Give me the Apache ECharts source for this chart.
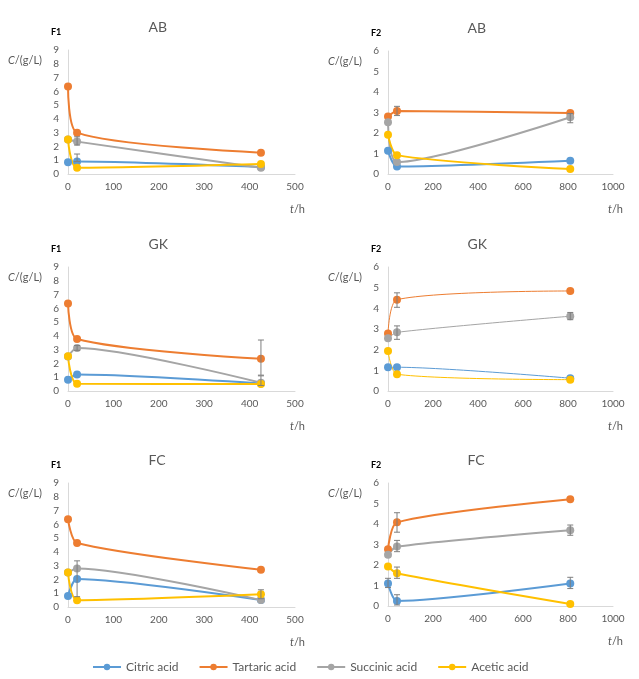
<!DOCTYPE html>
<html>
<head>
<meta charset="utf-8">
<script src="https://cdn.jsdelivr.net/npm/echarts@6/dist/echarts.min.js"></script>
<style>
  html, body { margin: 0; padding: 0; background: #fff; }
  #main { width: 639px; height: 679px; }
</style>
</head>
<body>
<div id="main"></div>
<script>
const acids = ['Citric acid', 'Tartaric acid', 'Succinic acid', 'Acetic acid']
const colors = ['#5B9BD5', '#ED7D31', '#A5A5A5', '#FFC000']

// sampling times (h)
const hoursF1 = [0, 20, 425]
const hoursF2 = [0, 40, 810]

// concentrations, g/L : citric, tartaric, succinic, acetic
const abF1 = [[0.85, 0.9, 0.5], [6.35, 3.0, 1.55], [2.5, 2.35, 0.45], [2.5, 0.45, 0.72]]
const abF2 = [[1.13, 0.37, 0.65], [2.8, 3.07, 2.97], [2.53, 0.58, 2.77], [1.91, 0.92, 0.24]]
const gkF1 = [[0.82, 1.2, 0.55], [6.35, 3.77, 2.34], [2.5, 3.12, 0.6], [2.52, 0.52, 0.5]]
const gkF2 = [[1.15, 1.15, 0.62], [2.78, 4.42, 4.84], [2.55, 2.84, 3.62], [1.93, 0.81, 0.55]]
const fcF1 = [[0.8, 2.03, 0.5], [6.37, 4.65, 2.7], [2.5, 2.8, 0.5], [2.5, 0.49, 0.92]]
const fcF2 = [[1.1, 0.25, 1.1], [2.77, 4.08, 5.21], [2.5, 2.9, 3.7], [1.93, 1.6, 0.1]]

// error bars: [t, low, high]
const abF1Err = [[20, 2.1, 2.7], [20, 0.9, 1.45]]
const abF2Err = [[40, 2.85, 3.3], [810, 2.5, 2.95]]
const gkF1Err = [[20, 2.95, 3.3], [425, 1.15, 3.7], [425, 0.4, 1.1]]
const gkF2Err = [[40, 4.05, 4.75], [40, 2.5, 3.15], [810, 3.45, 3.8]]
const fcF1Err = [[20, 0.75, 3.35], [425, 0.6, 1.25]]
const fcF2Err = [[0, 0.9, 1.35], [40, 3.6, 4.55], [40, 2.65, 3.2], [40, 1.35, 1.9], [40, 0.05, 0.55], [810, 3.45, 3.95], [810, 0.85, 1.4]]

const panels = [
  { name: 'AB', tag: 'F1', hours: hoursF1, vals: abF1, err: abF1Err, xmax: 500, xint: 100, ymax: 9 },
  { name: 'AB', tag: 'F2', hours: hoursF2, vals: abF2, err: abF2Err, xmax: 1000, xint: 200, ymax: 6 },
  { name: 'GK', tag: 'F1', hours: hoursF1, vals: gkF1, err: gkF1Err, xmax: 500, xint: 100, ymax: 9 },
  { name: 'GK', tag: 'F2', hours: hoursF2, vals: gkF2, err: gkF2Err, xmax: 1000, xint: 200, ymax: 6, thin: true },
  { name: 'FC', tag: 'F1', hours: hoursF1, vals: fcF1, err: fcF1Err, xmax: 500, xint: 100, ymax: 9 },
  { name: 'FC', tag: 'F2', hours: hoursF2, vals: fcF2, err: fcF2Err, xmax: 1000, xint: 200, ymax: 6 }
]

// grid boxes [left, top, width, height]
const boxes = [
  [68, 50, 227, 124], [388, 51, 225, 123],
  [68, 267, 227, 124], [388, 267, 225, 124],
  [68, 483, 227, 124], [388, 483, 225, 123]
]

const font = 'Lato, "Open Sans", sans-serif'
const grey = '#595959'

var grid = [], xAxis = [], yAxis = [], series = [], graphic = []

panels.forEach((p, i) => {
  const b = boxes[i]
  grid.push({ left: b[0], top: b[1], width: b[2], height: b[3] })
  xAxis.push({
    type: 'value', gridIndex: i, min: 0, max: p.xmax, interval: p.xint,
    axisLine: { show: true, lineStyle: { color: '#D9D9D9' } },
    axisTick: { show: false },
    splitLine: { show: false },
    axisLabel: { color: grey, fontSize: 10, fontFamily: font, margin: 8, formatter: v => String(v) }
  })
  yAxis.push({
    type: 'value', gridIndex: i, min: 0, max: p.ymax, interval: 1,
    axisLine: { show: true, lineStyle: { color: '#D9D9D9' } },
    axisTick: { show: false },
    splitLine: { show: false },
    axisLabel: { color: grey, fontSize: 10, fontFamily: font, margin: 9 }
  })
  p.vals.forEach((v, k) => {
    series.push({
      name: acids[k],
      type: 'line',
      xAxisIndex: i,
      yAxisIndex: i,
      smooth: 0.25,
      symbol: 'circle',
      symbolSize: 8,
      color: colors[k],
      lineStyle: { width: p.thin ? 1 : 2 },
      data: p.hours.map((t, j) => [t, v[j]]),
      z: 3
    })
  })
  series.push({
    type: 'custom',
    xAxisIndex: i,
    yAxisIndex: i,
    z: 4,
    silent: true,
    renderItem: (params, api) => {
      const top = api.coord([api.value(0), api.value(2)])
      const bot = api.coord([api.value(0), api.value(1)])
      const w = 3
      const st = { stroke: '#7F7F7F', lineWidth: 1 }
      return {
        type: 'group',
        children: [
          { type: 'line', shape: { x1: top[0], y1: top[1], x2: bot[0], y2: bot[1] }, style: st },
          { type: 'line', shape: { x1: top[0] - w, y1: top[1], x2: top[0] + w, y2: top[1] }, style: st },
          { type: 'line', shape: { x1: bot[0] - w, y1: bot[1], x2: bot[0] + w, y2: bot[1] }, style: st }
        ]
      }
    },
    data: p.err
  })

  const cx = b[0] + b[2] / 2 - 25
  graphic.push({
    type: 'text', left: cx - 8, top: b[1] - 30,
    style: { text: p.name, font: '14px ' + font, fill: grey }
  })
  graphic.push({
    type: 'text', left: b[0] - 17, top: b[1] - 22,
    style: { text: p.tag, font: 'bold 9px ' + font, fill: '#000' }
  })
  graphic.push({
    type: 'text', left: b[0] - 60, top: b[1] + 5,
    style: {
      text: '{i|C}/(g/L)',
      font: '11px ' + font, fill: grey,
      rich: { i: { fontStyle: 'italic', fontSize: 11, fontFamily: font, fill: grey } }
    }
  })
  graphic.push({
    type: 'text', left: b[0] + b[2] - 5, top: b[1] + b[3] + 30,
    style: {
      text: '{i|t}/h',
      font: '11px ' + font, fill: grey,
      rich: { i: { fontStyle: 'italic', fontSize: 11, fontFamily: font, fill: grey } }
    }
  })
})

var chart = echarts.init(document.getElementById('main'))
chart.setOption({
  animation: false,
  backgroundColor: '#fff',
  legend: {
    data: acids,
    top: 661,
    left: 92,
    padding: 0,
    itemGap: 20,
    itemWidth: 28,
    itemHeight: 8,
    textStyle: { color: grey, fontSize: 12, fontFamily: font }
  },
  grid: grid,
  xAxis: xAxis,
  yAxis: yAxis,
  series: series,
  graphic: graphic
})
</script>
</body>
</html>
